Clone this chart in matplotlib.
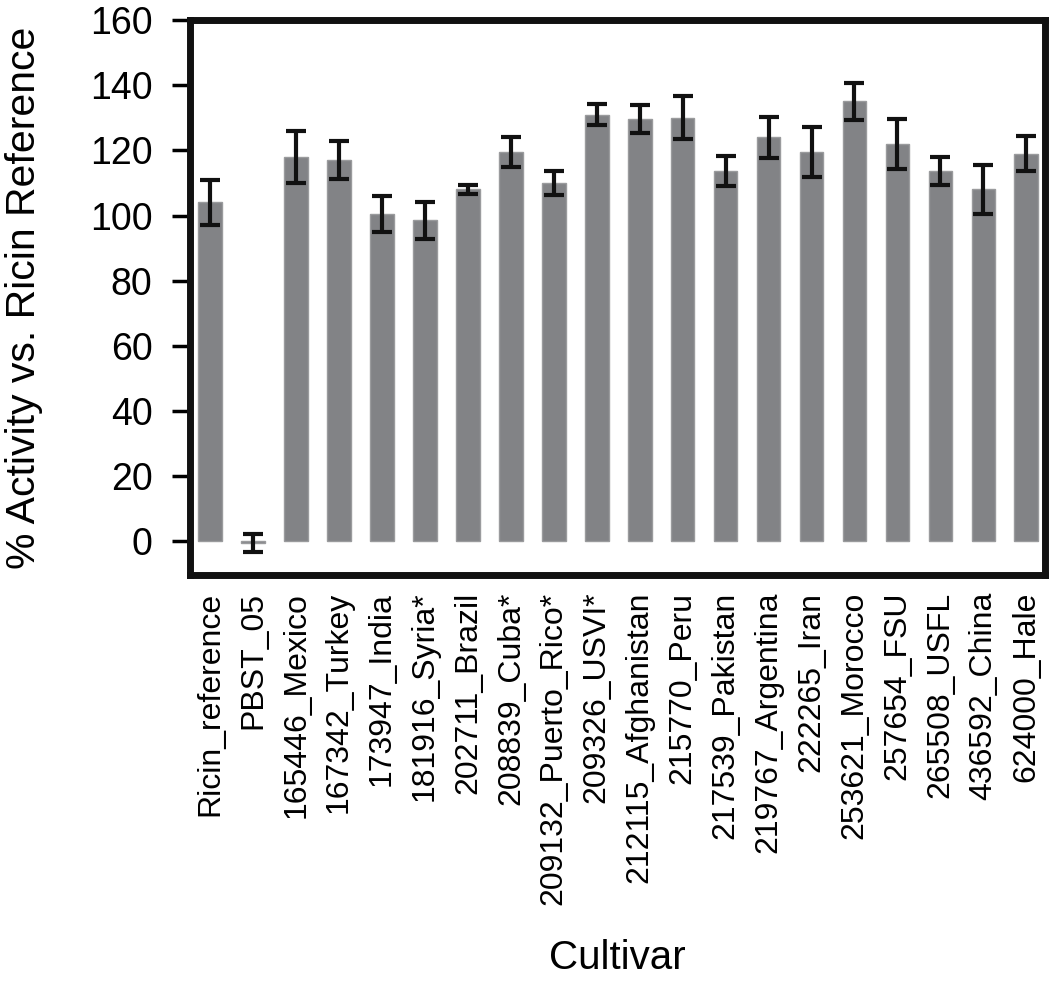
import numpy as np
import matplotlib
matplotlib.use('Agg')
import matplotlib.pyplot as plt

plt.rcParams['font.family'] = ['Liberation Sans', 'DejaVu Sans']

cultivars = ['Ricin_reference', 'PBST_05', '165446_Mexico', '167342_Turkey',
             '173947_India', '181916_Syria*', '202711_Brazil', '208839_Cuba*',
             '209132_Puerto_Rico*', '209326_USVI*', '212115_Afghanistan',
             '215770_Peru', '217539_Pakistan', '219767_Argentina', '222265_Iran',
             '253621_Morocco', '257654_FSU', '265508_USFL', '436592_China',
             '624000_Hale']
activity = [104, -0.5, 118, 117, 100.5, 98.5, 108, 119.5, 110, 131,
            129.5, 130, 113.7, 124, 119.5, 135, 122, 113.7, 108, 119]
errors = [7, 2.8, 8, 5.8, 5.6, 5.7, 1.3, 4.7, 3.8, 3.3,
          4.3, 6.6, 4.6, 6.3, 7.6, 5.6, 7.6, 4.3, 7.4, 5.3]

fig = plt.figure(figsize=(10.5, 9.81), dpi=100)
ax = fig.add_axes([0.181, 0.4139, 0.814, 0.5657])

x = np.arange(len(cultivars))
ax.bar(x, activity, width=0.55, color='#828386', edgecolor='#9a9b9d', linewidth=1)
ax.errorbar(x, activity, yerr=errors, fmt='none', ecolor='#111111',
            elinewidth=3, capsize=7.5, capthick=3)

ax.set_xlim(-0.47, 19.43)
ax.set_ylim(-10.3, 160)
ax.set_yticks(np.arange(0, 161, 20))
ax.tick_params(axis='y', labelsize=27, length=13, width=2.5, pad=14, direction='out')
ax.set_xticks(x)
ax.set_xticklabels(cultivars, rotation=90, fontsize=23)
ax.tick_params(axis='x', length=0, pad=12)
for s in ax.spines.values():
    s.set_linewidth(5)
    s.set_color('#111111')

ax.set_ylabel('% Activity vs. Ricin Reference', fontsize=29.5)
ax.yaxis.set_label_coords(-0.172, 0.5)
fig.text(0.588, 0.012, 'Cultivar', fontsize=29, ha='center', va='baseline')

fig.savefig('out.png', dpi=100)
